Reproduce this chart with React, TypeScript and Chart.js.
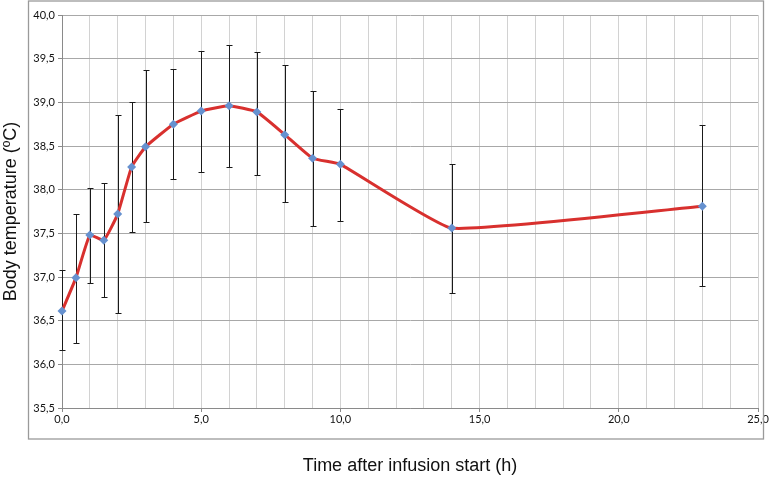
import React, { useEffect, useRef } from "react";
import { Chart, registerables } from "chart.js";

Chart.register(...registerables);

const times = [0, 0.5, 1, 1.5, 2, 2.5, 3, 4, 5, 6, 7, 8, 9, 10, 14, 23];
const temps = [36.61, 36.99, 37.48, 37.42, 37.72, 38.26, 38.49, 38.75, 38.9, 38.96, 38.89, 38.63, 38.36, 38.29, 37.56, 37.81];
const upper = [37.08, 37.72, 38.02, 38.08, 38.86, 39.0, 39.37, 39.38, 39.59, 39.66, 39.58, 39.43, 39.13, 38.92, 38.29, 38.74];
const lower = [36.16, 36.25, 36.93, 36.77, 36.59, 37.51, 37.63, 38.12, 38.2, 38.26, 38.17, 37.86, 37.58, 37.64, 36.82, 36.9];

const xTitle = "Time after infusion start (h)";
const yTitle = "Body temperature (ºC)";
const xMin = 0;
const xMax = 25;
const yMin = 35.5;
const yMax = 40;

const fmt = (v: number) => v.toFixed(1).replace(".", ",");

const errorBars = {
  id: "errorBars",
  beforeDatasetsDraw(chart: any) {
    const { ctx, scales } = chart;
    const xs = scales.x;
    const ys = scales.y;
    ctx.save();
    ctx.strokeStyle = "#1a1a1a";
    ctx.lineWidth = 1;
    for (let i = 0; i < times.length; i++) {
      const px = Math.round(xs.getPixelForValue(times[i])) + 0.5;
      const pu = Math.round(ys.getPixelForValue(upper[i])) + 0.5;
      const pl = Math.round(ys.getPixelForValue(lower[i])) + 0.5;
      ctx.beginPath();
      ctx.moveTo(px, pu);
      ctx.lineTo(px, pl);
      ctx.moveTo(px - 3, pu);
      ctx.lineTo(px + 3, pu);
      ctx.moveTo(px - 3, pl);
      ctx.lineTo(px + 3, pl);
      ctx.stroke();
    }
    ctx.restore();
  },
};

const frame = {
  id: "frame",
  afterDraw(chart: any) {
    const { ctx } = chart;
    ctx.save();
    ctx.strokeStyle = "#9a9a9a";
    ctx.lineWidth = 1.3;
    ctx.strokeRect(28.5, 1, 735, 438);
    ctx.restore();
  },
};

export default function App() {
  const ref = useRef<HTMLCanvasElement>(null);
  useEffect(() => {
    document.body.style.margin = "0";
    const chart = new Chart(ref.current as HTMLCanvasElement, {
      type: "line",
      data: {
        datasets: [
          {
            data: times.map((t, i) => ({ x: t, y: temps[i] })),
            borderColor: "#d8302e",
            borderWidth: 3,
            tension: 0.12,
            clip: false,
            pointStyle: "rectRot",
            pointRadius: 4.5,
            pointBackgroundColor: "#6691cf",
            pointBorderColor: "#6691cf",
            pointBorderWidth: 0,
          },
        ],
      },
      options: {
        animation: false,
        responsive: false,
        layout: { padding: { top: 15, right: 21, left: 0, bottom: 0 } },
        plugins: { legend: { display: false }, tooltip: { enabled: false } },
        scales: {
          x: {
            type: "linear",
            min: xMin,
            max: xMax,
            afterFit: (s: any) => {
              s.height = 69;
            },
            ticks: {
              stepSize: 1,
              autoSkip: false,
              maxRotation: 0,
              padding: 1,
              color: "#111",
              font: { family: "Lato", size: 11 },
              callback: (v: any) => (Number(v) % 5 === 0 ? fmt(Number(v)) : ""),
            },
            grid: {
              color: "#d2d2d2",
              lineWidth: 1,
              tickLength: 4,
              tickColor: (c: any) => (c.tick && c.tick.value % 5 === 0 ? "#8a8a8a" : "rgba(0,0,0,0)"),
            },
            border: { color: "#8a8a8a", width: 1 },
            title: {
              display: true,
              text: xTitle,
              color: "#111",
              font: { family: "Liberation Sans", size: 18 },
              padding: { top: 0, bottom: 0 },
            },
          },
          y: {
            min: yMin,
            max: yMax,
            afterFit: (s: any) => {
              s.width = 62;
            },
            ticks: {
              stepSize: 0.5,
              padding: 3,
              color: "#111",
              font: { family: "Lato", size: 11 },
              callback: (v: any) => fmt(Number(v)),
            },
            grid: {
              color: "#a8a8a8",
              lineWidth: 1,
              tickLength: 4,
              tickColor: "#8a8a8a",
            },
            border: { color: "#8a8a8a", width: 1 },
            title: {
              display: true,
              text: yTitle,
              color: "#111",
              font: { family: "Liberation Sans", size: 18 },
              padding: { top: 0, bottom: 0 },
            },
          },
        },
      },
      plugins: [errorBars, frame],
    } as any);
    return () => chart.destroy();
  }, []);
  return (
    <div style={{ width: 779, height: 477 }}>
      <canvas ref={ref} width={779} height={477} />
    </div>
  );
}
